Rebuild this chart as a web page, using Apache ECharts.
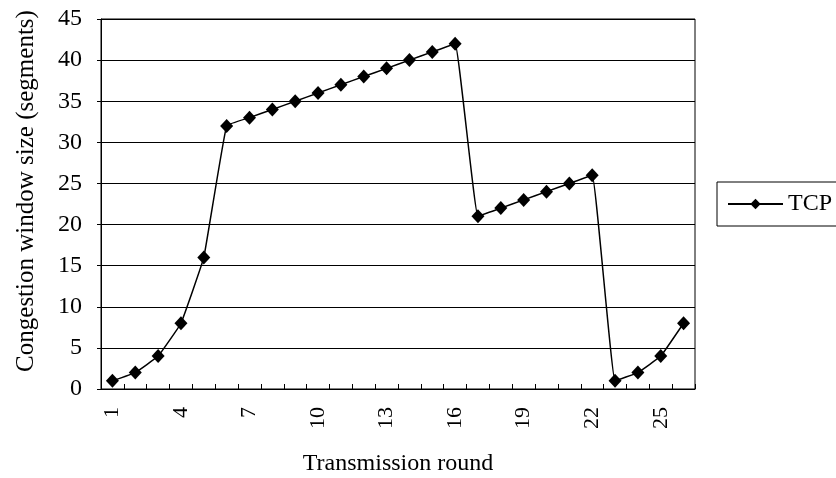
<!DOCTYPE html>
<html>
<head>
<meta charset="utf-8">
<script src="https://cdn.jsdelivr.net/npm/echarts@6/dist/echarts.min.js"></script>
<style>html,body{margin:0;padding:0;background:#fff}#c{width:836px;height:478px}</style>
</head>
<body>
<div id="c"></div>
<script>
const rounds = ['1','2','3','4','5','6','7','8','9','10','11','12','13','14','15','16','17','18','19','20','21','22','23','24','25','26'];
const tcpWindow = [1,2,4,8,16,32,33,34,35,36,37,38,39,40,41,42,21,22,23,24,25,26,1,2,4,8];
const yTicks = {min:0, max:45, interval:5};
const seriesName = 'TCP';
const xTitle = 'Transmission round';
const yTitle = 'Congestion window size (segments)';

const FONT = '"Liberation Serif", "DejaVu Serif", serif';
const chart = echarts.init(document.getElementById('c'), null, {renderer:'canvas'});
chart.setOption({
  backgroundColor:'#fff',
  animation:false,
  grid:{left:101, right:141, top:19, bottom:89, show:true, borderColor:'#000', borderWidth:1, outerBoundsMode:'none', containLabel:false},
  legend:{
    show:true, left:717, top:182, orient:'vertical',
    data:[seriesName],
    borderColor:'#000', borderWidth:1,
    padding:[10,40,10,10],
    itemWidth:55, itemHeight:13, itemGap:0,
    textStyle:{fontFamily:FONT, fontSize:24, color:'#000'}
  },
  xAxis:{
    type:'category', data:rounds, boundaryGap:true,
    name:xTitle, nameLocation:'middle', nameGap:63,
    nameTextStyle:{fontFamily:FONT, fontSize:24, color:'#000'},
    axisLine:{lineStyle:{color:'#000', width:1}},
    axisTick:{show:true, inside:true, length:5, interval:0, lineStyle:{color:'#000'}},
    axisLabel:{interval:2, rotate:90, fontFamily:FONT, fontSize:22, color:'#000', margin:18},
    splitLine:{show:false}
  },
  yAxis:{
    type:'value', min:yTicks.min, max:yTicks.max, interval:yTicks.interval,
    name:yTitle, nameLocation:'middle', nameGap:62,
    nameTextStyle:{fontFamily:FONT, fontSize:25, color:'#000', padding:[0,0,0,26]},
    axisLine:{show:true, lineStyle:{color:'#000', width:1}},
    axisTick:{show:true, length:4, lineStyle:{color:'#000'}},
    axisLabel:{fontFamily:FONT, fontSize:24, color:'#000', margin:19},
    splitLine:{show:true, lineStyle:{color:'#000', width:1}}
  },
  series:[{
    name:seriesName, type:'line', data:tcpWindow,
    smooth:0.08,
    symbol:'diamond', symbolSize:[13,14],
    lineStyle:{color:'#000', width:1.5},
    itemStyle:{color:'#000'}
  }]
});
</script>
</body>
</html>
